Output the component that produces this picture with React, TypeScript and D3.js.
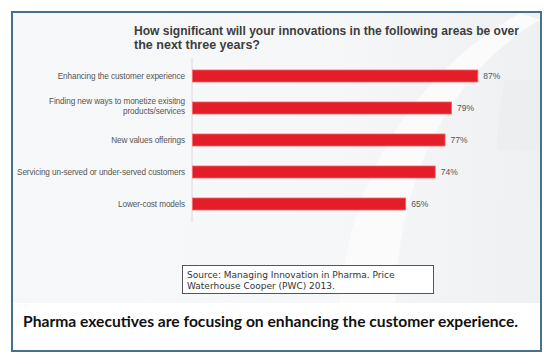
import * as d3 from 'd3';
import { useRef, useEffect } from 'react';

// --- Chart data ---
const categories = [
  "Enhancing the customer experience",
  "Finding new ways to monetize exisitng\nproducts/services",
  "New values offerings",
  "Servicing un-served or under-served customers",
  "Lower-cost models",
];
const values = [87, 79, 77, 74, 65];
const titleLines = [
  "How significant will your innovations in the following areas be over",
  "the next three years?",
];
const sourceLines = [
  "Source:  Managing Innovation in Pharma. Price",
  "Waterhouse Cooper (PWC) 2013.",
];
const caption = "Pharma executives are focusing on enhancing the customer experience.";

export default function App() {
  const ref = useRef<SVGSVGElement>(null);

  useEffect(() => {
    const width = 550;
    const height = 364;

    const svg = d3.select(ref.current)
      .attr("width", width)
      .attr("height", height)
      .attr("viewBox", `0 0 ${width} ${height}`)
      .style("display", "block");

    svg.selectAll("*").remove();

    // --- Background panel ---
    const defs = svg.append("defs");
    const grad = defs.append("linearGradient")
      .attr("id", "panelGrad")
      .attr("x1", "0").attr("y1", "0").attr("x2", "1").attr("y2", "0");
    grad.append("stop").attr("offset", "0%").attr("stop-color", "#f7f8f9");
    grad.append("stop").attr("offset", "60%").attr("stop-color", "#f6f7f8");
    grad.append("stop").attr("offset", "100%").attr("stop-color", "#eef0f2");

    svg.append("rect")
      .attr("x", 12).attr("y", 12)
      .attr("width", 529).attr("height", 339)
      .attr("fill", "#ffffff");

    svg.append("rect")
      .attr("x", 13).attr("y", 13)
      .attr("width", 527).attr("height", 290)
      .attr("fill", "url(#panelGrad)");

    // decorative swooshes
    const clip = defs.append("clipPath").attr("id", "panelClip");
    clip.append("rect").attr("x", 13).attr("y", 13).attr("width", 527).attr("height", 290);
    const deco = svg.append("g").attr("clip-path", "url(#panelClip)");
    deco.append("path")
      .attr("d", "M 540 20 C 470 60 400 150 395 303 L 340 303 C 350 170 420 70 520 13 Z")
      .attr("fill", "#fbfbfc");
    deco.append("path")
      .attr("d", "M 540 205 L 500 205 L 500 303 L 540 303 Z")
      .attr("fill", "#f0f1f3");
    deco.append("path")
      .attr("d", "M 540 80 L 505 80 C 500 100 497 130 497 150 L 540 150 Z")
      .attr("fill", "#eceef0");

    // --- Scales ---
    const xScale = d3.scaleLinear()
      .domain([0, 100])
      .range([192, 520]);

    const yScale = d3.scaleBand()
      .domain(categories)
      .range([60, 220])
      .paddingInner(0.625)
      .paddingOuter(0.3125);

    // --- Title ---
    const title = svg.append("g")
      .attr("font-family", "'Liberation Sans', Arial, sans-serif")
      .attr("font-weight", "bold")
      .attr("font-size", 12.5)
      .attr("fill", "#3d3d3d");
    title.append("text")
      .attr("x", 134).attr("y", 35)
      .attr("textLength", 385)
      .attr("lengthAdjust", "spacingAndGlyphs")
      .text(titleLines[0]);
    title.append("text")
      .attr("x", 134).attr("y", 48.5)
      .attr("textLength", 126)
      .attr("lengthAdjust", "spacingAndGlyphs")
      .text(titleLines[1]);

    // --- Axis line ---
    svg.append("line")
      .attr("x1", xScale(0)).attr("x2", xScale(0))
      .attr("y1", 58).attr("y2", 222)
      .attr("stroke", "#dcdcdc")
      .attr("stroke-width", 1);

    // --- Bars ---
    const rows = categories.map((c, i) => ({ category: c, value: values[i] }));

    svg.selectAll("rect.bar")
      .data(rows)
      .join("rect")
      .attr("class", "bar")
      .attr("x", xScale(0) + 0.5)
      .attr("y", d => yScale(d.category)!)
      .attr("width", d => xScale(d.value) - xScale(0))
      .attr("height", yScale.bandwidth())
      .attr("fill", "#e41e28")
      .attr("stroke", "#f2676c")
      .attr("stroke-width", 0.8);

    // --- Value labels ---
    svg.selectAll("text.value")
      .data(rows)
      .join("text")
      .attr("class", "value")
      .attr("x", d => xScale(d.value) + 6)
      .attr("y", d => yScale(d.category)! + yScale.bandwidth() / 2 + 3)
      .attr("font-family", "'Liberation Sans', Arial, sans-serif")
      .attr("font-size", 8.5)
      .attr("fill", "#555")
      .text(d => `${d.value}%`);

    // --- Category labels ---
    const labels = svg.selectAll("text.cat")
      .data(rows)
      .join("text")
      .attr("class", "cat")
      .attr("text-anchor", "end")
      .attr("font-family", "'Liberation Sans', Arial, sans-serif")
      .attr("font-size", 8.2)
      .attr("letter-spacing", -0.1)
      .attr("fill", "#555");

    labels.each(function (d) {
      const lines = d.category.split("\n");
      const cy = yScale(d.category)! + yScale.bandwidth() / 2;
      const start = lines.length > 1 ? cy - 4 : cy + 3;
      d3.select(this).selectAll("tspan")
        .data(lines)
        .join("tspan")
        .attr("x", 185)
        .attr("y", (_, i) => start + i * 9.5)
        .text(t => t);
    });

    // --- Source box ---
    svg.append("rect")
      .attr("x", 182.5).attr("y", 265.5)
      .attr("width", 251).attr("height", 28)
      .attr("fill", "#ffffff")
      .attr("stroke", "#555")
      .attr("stroke-width", 1);

    svg.append("g")
      .attr("font-family", "'DejaVu Sans', sans-serif")
      .attr("font-size", 9)
      .attr("fill", "#333")
      .selectAll("text")
      .data(sourceLines)
      .join("text")
      .attr("x", 187)
      .attr("y", (_, i) => 277.5 + i * 11)
      .text(d => d);

    // --- Caption ---
    svg.append("text")
      .attr("x", 23).attr("y", 327)
      .attr("font-family", "Lato, 'DejaVu Sans', sans-serif")
      .attr("font-weight", "bold")
      .attr("font-size", 15)
      .attr("fill", "#111")
      .attr("textLength", 495)
      .attr("lengthAdjust", "spacingAndGlyphs")
      .text(caption);

    // --- Frame ---
    svg.append("rect")
      .attr("x", 12).attr("y", 12)
      .attr("width", 529).attr("height", 339)
      .attr("fill", "none")
      .attr("stroke", "#46708e")
      .attr("stroke-width", 2);
  }, []);

  return (
    <div style={{ position: "absolute", left: 0, top: 0 }}>
      <svg ref={ref}></svg>
    </div>
  );
}
